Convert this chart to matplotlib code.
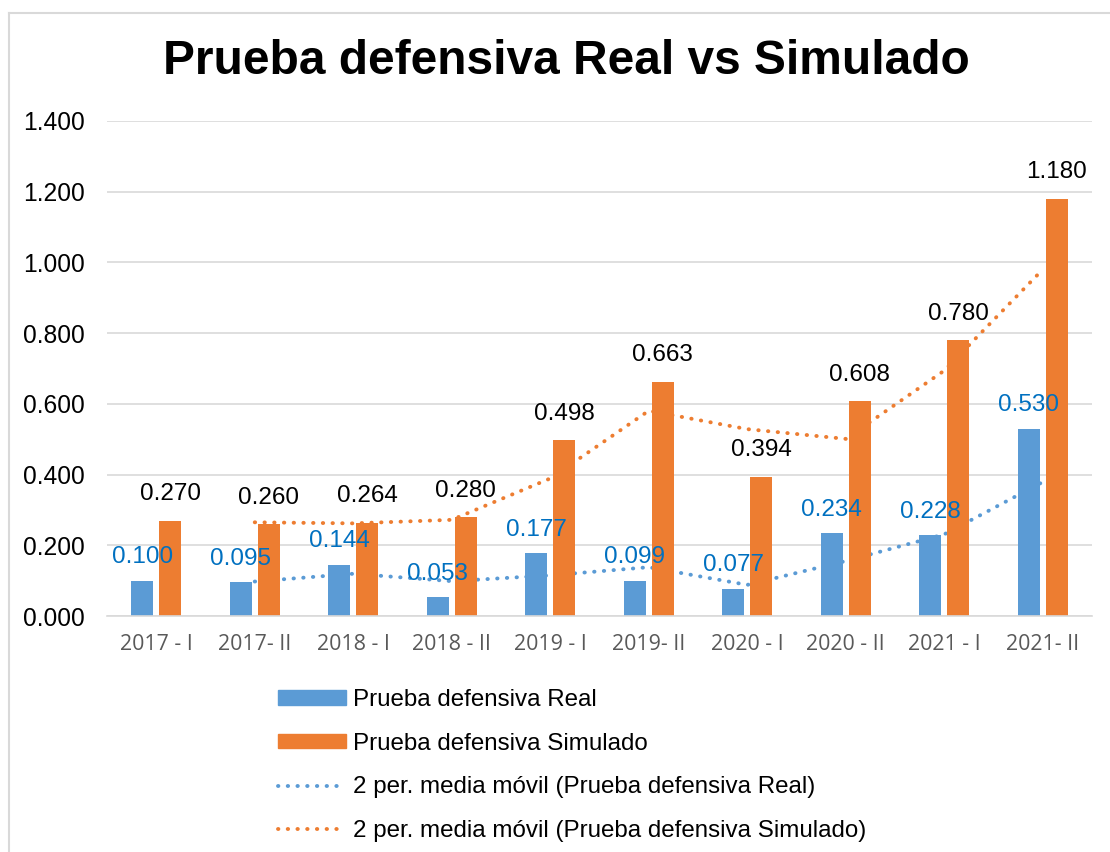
import numpy as np
import pandas as pd
import matplotlib
matplotlib.use("Agg")
import matplotlib.pyplot as plt
from matplotlib.lines import Line2D
from matplotlib.patches import Patch

# chart data
periodos = ["2017 - I", "2017- II", "2018 - I", "2018 - II", "2019 - I",
            "2019- II", "2020 - I", "2020 - II", "2021 - I", "2021- II"]
real = [0.100, 0.095, 0.144, 0.053, 0.177, 0.099, 0.077, 0.234, 0.228, 0.530]
simulado = [0.270, 0.260, 0.264, 0.280, 0.498, 0.663, 0.394, 0.608, 0.780, 1.180]

azul = "#5B9BD5"
naranja = "#ED7D31"
azul_txt = "#0070C0"
gris = "#D9D9D9"

plt.rcParams["font.family"] = ["Liberation Sans", "DejaVu Sans"]

# 2 period moving average (Excel trendline)
mm_real = pd.Series(real).rolling(2).mean()
mm_sim = pd.Series(simulado).rolling(2).mean()

fig = plt.figure(figsize=(11.1, 8.52), dpi=100)
ax = fig.add_axes([107 / 1110, 1 - 616 / 852, (1092 - 107) / 1110, (616 - 121) / 852])

x = np.arange(len(periodos))
off = 0.142
w = 0.224
punteado = (0, (0.1, 2.4))

ax.plot(x, mm_real, color=azul, lw=2.8, linestyle=punteado,
        dash_capstyle="round", zorder=1)
ax.plot(x, mm_sim, color=naranja, lw=2.8, linestyle=punteado,
        dash_capstyle="round", zorder=1)

ax.bar(x - off, real, width=w, color=azul, zorder=2)
ax.bar(x + off, simulado, width=w, color=naranja, zorder=2)

for xi, v in zip(x, simulado):
    ax.annotate(f"{v:.3f}", (xi + off, v), xytext=(0, 19), textcoords="offset points",
                ha="center", va="center", fontsize=17.5, color="black", zorder=4)
for xi, v in zip(x, real):
    ax.annotate(f"{v:.3f}", (xi - off, v), xytext=(0, 17), textcoords="offset points",
                ha="center", va="center", fontsize=17.5, color=azul_txt, zorder=5)

ax.set_xlim(-0.5, len(periodos) - 0.5)
ax.set_ylim(0, 1.4)
ax.set_yticks(np.arange(0, 1.41, 0.2))
ax.set_yticklabels([f"{t:.3f}" for t in np.arange(0, 1.41, 0.2)], fontsize=17.7)
ax.set_xticks(x)
ax.set_xticklabels(periodos, fontsize=15.4, color="#595959", family=["Open Sans", "DejaVu Sans"])
ax.tick_params(axis="both", length=0)
ax.tick_params(axis="y", pad=16)
ax.tick_params(axis="x", pad=13)
ax.grid(axis="y", color=gris, lw=1.2, zorder=0)
ax.set_axisbelow(True)
for s in ["top", "right", "left"]:
    ax.spines[s].set_visible(False)
ax.spines["bottom"].set_color(gris)
ax.spines["bottom"].set_linewidth(1.2)

fig.text(0.510, 1 - 62 / 852, "Prueba defensiva Real vs Simulado", ha="center", va="center",
         fontsize=34.5, fontweight="bold")

# chart border
fig.add_artist(Line2D([8.5 / 1110, 8.5 / 1110], [0, 1 - 13 / 852], color=gris, lw=1.5))
fig.add_artist(Line2D([8.5 / 1110, 1], [1 - 13 / 852, 1 - 13 / 852], color=gris, lw=1.5))

handles = [
    Patch(color=azul),
    Patch(color=naranja),
    Line2D([], [], color=azul, lw=2.8, linestyle=punteado, dash_capstyle="round"),
    Line2D([], [], color=naranja, lw=2.8, linestyle=punteado, dash_capstyle="round"),
]
labels = ["Prueba defensiva Real", "Prueba defensiva Simulado",
          "2 per. media móvil (Prueba defensiva Real)",
          "2 per. media móvil (Prueba defensiva Simulado)"]
fig.legend(handles, labels, loc="upper left", bbox_to_anchor=(278 / 1110, 1 - 689 / 852),
           frameon=False, fontsize=17.4, handlelength=2.8, handleheight=0.55,
           handletextpad=0.3, labelspacing=0.9, borderpad=0, borderaxespad=0)

fig.savefig("out.png", dpi=100)
